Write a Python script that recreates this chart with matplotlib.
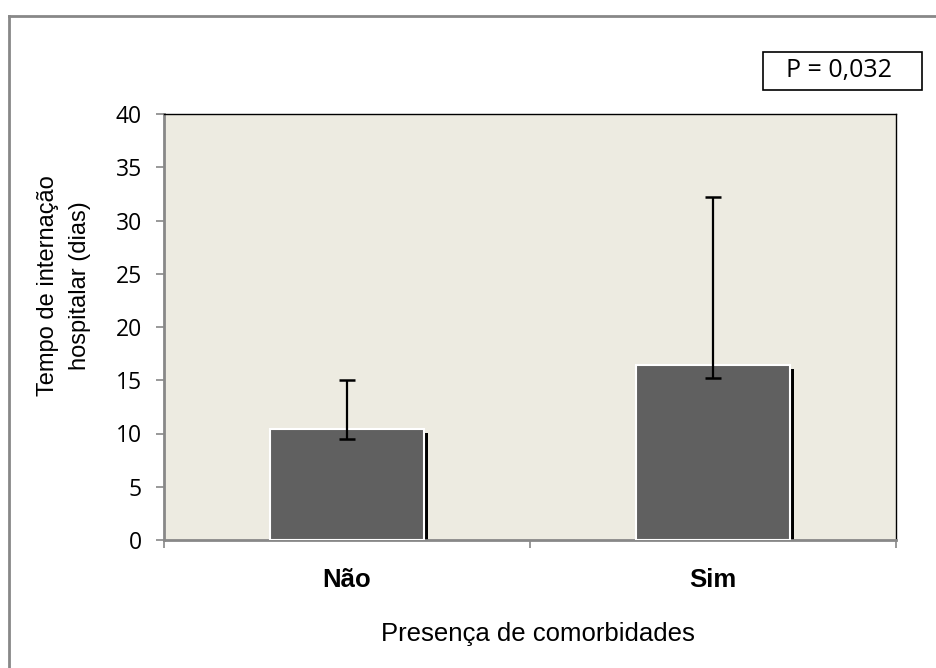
import matplotlib.pyplot as plt
from matplotlib.lines import Line2D
from matplotlib.patches import Rectangle

# data
categories = ["Não", "Sim"]
means = [10.4, 16.4]
err_low = [9.5, 15.2]
err_high = [15.0, 32.2]
yticks = [0, 5, 10, 15, 20, 25, 30, 35, 40]

W, H = 936, 668
fig = plt.figure(figsize=(W / 100, H / 100), dpi=100)
ax = fig.add_axes([164 / W, 1 - 540 / H, 732 / W, 426 / H])
ax.set_facecolor("#EDEBE1")

x = list(range(len(categories)))
width = 0.42

# shadow strip to the right of each bar
ax.bar([i + 0.012 for i in x], [m - 0.35 for m in means], width=width,
       color="black", zorder=2)
ax.bar(x, means, width=width, color="#606060", edgecolor="white",
       linewidth=1.5, zorder=3)

yerr = [[m - lo for m, lo in zip(means, err_low)],
        [hi - m for m, hi in zip(means, err_high)]]
ax.errorbar(x, means, yerr=yerr, fmt="none", ecolor="black", elinewidth=1.6,
            capsize=5.5, capthick=1.8, zorder=4)

ax.set_xlim(-0.5, 1.5)
ax.set_ylim(0, 40)
ax.set_yticks(yticks)
ax.set_yticklabels([str(v) for v in yticks], family="Open Sans", fontsize=16.5)
ax.set_xticks(x)
ax.set_xticklabels(categories, fontweight="bold", fontsize=18.5,
                   family="Liberation Sans")
ax.tick_params(axis="x", which="major", length=0, pad=20)
ax.set_xticks([-0.5, 0.5, 1.5], minor=True)
ax.tick_params(axis="x", which="minor", length=6, color="#888888", width=1.2)
ax.tick_params(axis="y", length=6, color="#888888", width=1.2, pad=10)

for s in ["left", "bottom"]:
    ax.spines[s].set_color("#888888")
    ax.spines[s].set_linewidth(2)
for s in ["top", "right"]:
    ax.spines[s].set_color("black")
    ax.spines[s].set_linewidth(1)

# axis titles
fig.text(64 / W, 1 - 286 / H, "Tempo de internação\nhospitalar (dias)",
         family="Liberation Sans", fontsize=17, rotation=90,
         ha="center", va="center", linespacing=1.55)
fig.text(538 / W, 1 - 634 / H, "Presença de comorbidades",
         family="Liberation Sans", fontsize=18.5, ha="center", va="center")

# p-value box
fig.add_artist(Rectangle((763 / W, 1 - 90 / H), 159 / W, 38 / H,
                         transform=fig.transFigure, facecolor="white",
                         edgecolor="black", linewidth=1.2))
fig.text(839 / W, 1 - 71 / H, "P = 0,032", family="Open Sans", fontsize=18,
         ha="center", va="center")

# outer frame (only left and top visible)
fig.add_artist(Line2D([9 / W, 9 / W], [0, 1 - 16 / H], color="#888888", lw=2))
fig.add_artist(Line2D([9 / W, 1.0], [1 - 16 / H, 1 - 16 / H],
                      color="#888888", lw=2))

fig.savefig("out.png", dpi=100)
